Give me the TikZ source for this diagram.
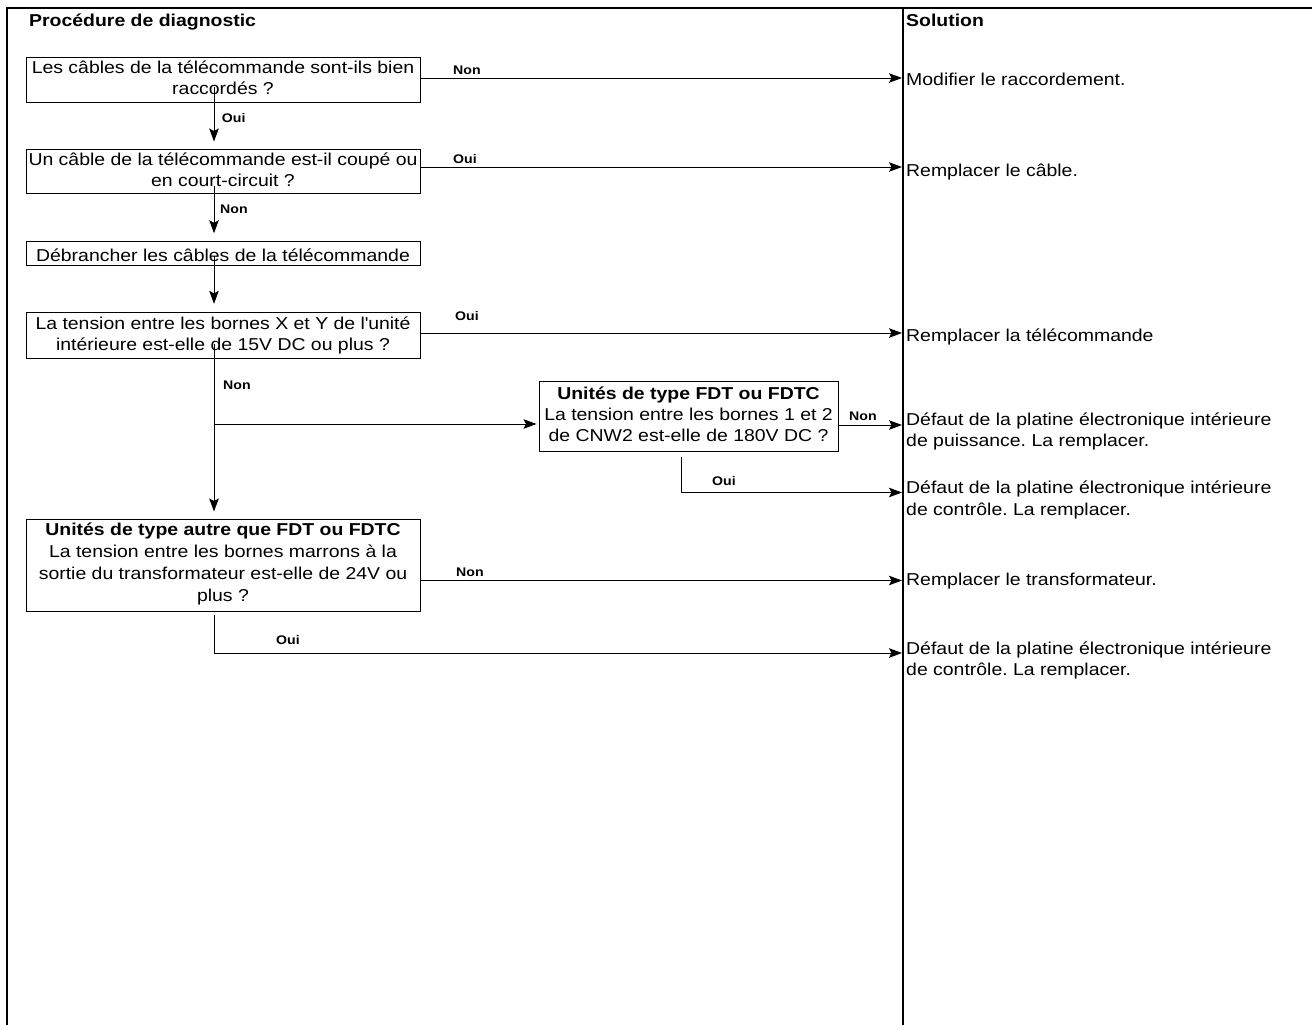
\documentclass[tikz,border=0pt]{standalone}
\usepackage{fontspec}
\setmainfont[FakeStretch=1.13]{Liberation Sans}
\usetikzlibrary{arrows.meta,calc}
\frenchspacing
\newcommand{\bodyfont}{\fontsize{17.2}{21}\selectfont}
\newcommand{\solfont}{\fontsize{17.2}{21.5}\selectfont}
\newcommand{\labfont}{\bfseries\fontsize{12.5}{15}\selectfont}
\begin{document}
\begin{tikzpicture}[x=1pt,y=-1pt,
  frame/.style={line width=1.2pt,draw=black},
  box/.style={draw=black,line width=0.9pt,inner sep=0pt,align=center,font=\bodyfont,
    execute at begin node={\rule{0pt}{19.4pt}},
    execute at end node={\rule[-4pt]{0pt}{4pt}}},
  conn/.style={line width=0.9pt,-{Stealth[length=13pt,width=9.5pt,inset=2.5pt]}},
  lab/.style={anchor=base west,inner sep=0pt,font=\labfont},
  sol/.style={anchor=base west,inner sep=0pt,align=left,font=\solfont},
  head/.style={anchor=base west,inner sep=0pt,font=\bfseries\bodyfont}]
\useasboundingbox (0,0) rectangle (1312,1025);

% table frame and column divider
\draw[frame] (7,1025) -- (7,8) -- (1312,8);
\draw[frame] (903,8) -- (903,1025);

% column headings
\node[head] (h1) at (29,27) {Procédure de diagnostic};
\node[head] (h2) at (906,27) {Solution};

% diagnostic steps
\node[box,minimum width=394pt,minimum height=45pt] (b1) at (223,79.5)
  {Les câbles de la télécommande sont-ils bien\\raccordés ?};
\node[box,minimum width=394pt,minimum height=44.5pt] (b2) at (223,171.2)
  {Un câble de la télécommande est-il coupé ou\\en court-circuit ?};
\node[box,minimum width=394pt,minimum height=24pt] (b3) at (223,253.7)
  {Débrancher les câbles de la télécommande};
\node[box,minimum width=394pt,minimum height=46pt] (b4) at (223,335.3)
  {La tension entre les bornes X et Y de l\textquotesingle unité\\intérieure est-elle de 15V DC ou plus ?};
\node[box,minimum width=299pt,minimum height=70pt] (b5) at (688.5,416)
  {\textbf{Unités de type FDT ou FDTC}\\La tension entre les bornes 1 et 2\\de CNW2 est-elle de 180V DC ?};
\node[box,minimum width=394pt,minimum height=92.5pt,
      font=\fontsize{17.2}{22}\selectfont,
      execute at begin node={\rule{0pt}{20pt}},
      execute at end node={\rule[-6.4pt]{0pt}{6.4pt}}] (b6) at (223,565.2)
  {\textbf{Unités de type autre que FDT ou FDTC}\\La tension entre les bornes marrons à la\\sortie du transformateur est-elle de 24V ou\\plus ?};

% solutions (anchored on the baseline of their last line)
\node[sol] (s1) at (906,85) {Modifier le raccordement.};
\node[sol] (s2) at (906,176.7) {Remplacer le câble.};
\node[sol] (s3) at (906,341.7) {Remplacer la télécommande};
\node[sol] (s4) at (906,446.5) {Défaut de la platine électronique intérieure\\de puissance. La remplacer.};
\node[sol] (s5) at (906,515) {Défaut de la platine électronique intérieure\\de contrôle. La remplacer.};
\node[sol] (s6) at (906,585) {Remplacer le transformateur.};
\node[sol] (s7) at (906,675.5) {Défaut de la platine électronique intérieure\\de contrôle. La remplacer.};

% connector guides and arrow ends on the divider
\coordinate (vx) at (214,0);
\coordinate (v5) at (681,0);
\coordinate (j4) at (214,424);
\coordinate (e1) at (902,78);
\coordinate (e2) at (902,167);
\coordinate (e3) at (902,333);
\coordinate (e4) at (902,425);
\coordinate (e5) at (902,492.5);
\coordinate (e6) at (902,580.5);
\coordinate (e7) at (902,653);

% main flow
\draw[conn] ($(b1.south -| vx)+(0,-15)$) -- ($(b2.north -| vx)+(0,-7)$);
\draw[conn] ($(b2.south -| vx)+(0,-8)$) -- ($(b3.north -| vx)+(0,-8)$);
\draw[conn] ($(b3.south -| vx)+(0,-10)$) -- ($(b4.north -| vx)+(0,-8)$);
\draw[conn] ($(b4.south -| vx)+(0,-15)$) -- ($(b6.north -| vx)+(0,-7)$);
\draw[conn] (j4) -- ($(j4 -| b5.west)+(-2,0)$);

% branches to the solutions
\draw[conn] (b1.east |- e1) -- (e1);
\draw[conn] (b2.east |- e2) -- (e2);
\draw[conn] (b4.east |- e3) -- (e3);
\draw[conn] (b5.east |- e4) -- (e4);
\draw[conn] ($(b5.south -| v5)+(0,6)$) |- (e5);
\draw[conn] (b6.east |- e6) -- (e6);
\draw[conn] ($(b6.south -| vx)+(0,3)$) |- (e7);

% connector labels
\node[lab] (l1) at (453,74.3) {Non};
\node[lab] (l2) at (221.7,122.7) {Oui};
\node[lab] (l3) at (453,163.5) {Oui};
\node[lab] (l4) at (220,213.3) {Non};
\node[lab] (l5) at (455,320) {Oui};
\node[lab] (l6) at (223,389) {Non};
\node[lab] (l7) at (849,420) {Non};
\node[lab] (l8) at (712,485) {Oui};
\node[lab] (l9) at (456,576) {Non};
\node[lab] (l10) at (276,644) {Oui};
\end{tikzpicture}
\end{document}
